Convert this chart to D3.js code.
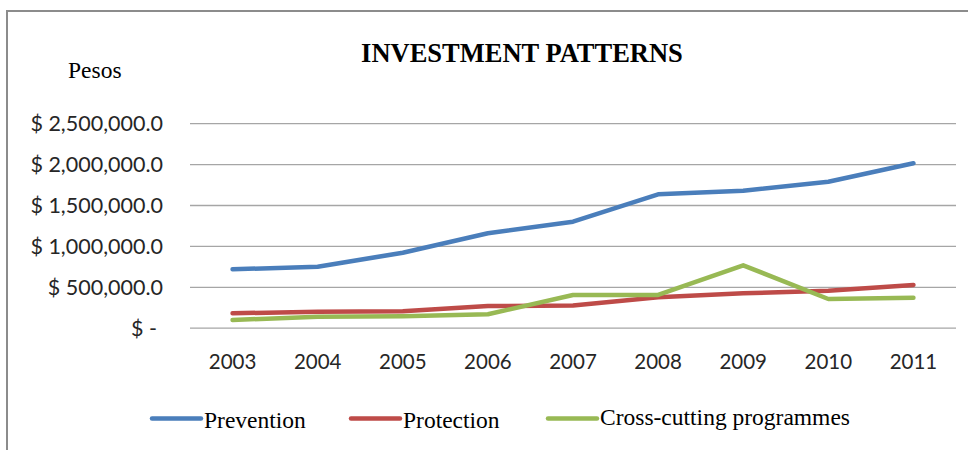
<!DOCTYPE html>
<html>
<head>
<meta charset="utf-8">
<script src="https://cdn.jsdelivr.net/npm/d3@7"></script>
<style>
  html, body { margin: 0; padding: 0; background: #fff; }
  svg { display: block; }
</style>
</head>
<body>
<svg id="chart" width="968" height="450"></svg>
<script>
const years = ["2003","2004","2005","2006","2007","2008","2009","2010","2011"];
const prevention = [714000, 746000, 917000, 1154000, 1296000, 1631000, 1675000, 1785000, 2010000];
const protection = [176000, 196000, 200000, 265000, 270000, 372000, 420000, 452000, 522000];
const crossCutting = [94000, 134000, 140000, 164000, 400000, 400000, 763000, 351000, 367000];
const seriesNames = ["Prevention", "Protection", "Cross-cutting programmes"];
const seriesColors = ["#4A7EBB", "#BE4B48", "#98B954"];
const yTicks = [0, 500000, 1000000, 1500000, 2000000, 2500000];
const title = "INVESTMENT PATTERNS";
const yTitle = "Pesos";

const seriesValues = [prevention, protection, crossCutting];

const svg = d3.select("#chart");

// Chart border (left and top)
svg.append("line").attr("x1", 7).attr("x2", 7).attr("y1", 10).attr("y2", 450)
  .attr("stroke", "#8c8c8c").attr("stroke-width", 2);
svg.append("line").attr("x1", 6).attr("x2", 968).attr("y1", 11).attr("y2", 11)
  .attr("stroke", "#8c8c8c").attr("stroke-width", 2);

const plot = { left: 190, right: 956, top: 123.2, bottom: 327.7 };

const x = d3.scaleBand().domain(years).range([plot.left, plot.right]).padding(0);
const y = d3.scaleLinear().domain([0, 2500000]).range([plot.bottom, plot.top]);

const fmt = v => v === 0 ? "$ -" : "$ " + d3.format(",.1f")(v);

// Y axis with gridlines
const yAxis = d3.axisLeft(y).tickValues(yTicks).tickFormat(fmt)
  .tickSizeInner(-(plot.right - plot.left)).tickSizeOuter(0).tickPadding(27);
const gy = svg.append("g").attr("transform", `translate(${plot.left},0)`).call(yAxis);
gy.select(".domain").remove();
gy.selectAll(".tick line").attr("stroke", "#a6a6a6").attr("stroke-width", 1.3);
gy.selectAll(".tick text")
  .attr("font-family", "Lato, sans-serif").attr("font-size", 21.5).attr("fill", "#262626")
  .attr("dy", "0.36em")
  .attr("dx", d => d === 0 ? -6 : 0);

// X axis labels
const xAxis = d3.axisBottom(x).tickSize(0).tickPadding(0);
const gx = svg.append("g").attr("transform", `translate(0,${plot.bottom})`).call(xAxis);
gx.select(".domain").remove();
gx.selectAll(".tick text")
  .attr("font-family", "Lato, sans-serif").attr("font-size", 20.5).attr("fill", "#262626")
  .attr("y", 41.5).attr("dy", 0);

// Lines
const line = d3.line()
  .x((d, i) => x(years[i]) + x.bandwidth() / 2)
  .y(d => y(d));

seriesValues.forEach((vals, i) => {
  svg.append("path").datum(vals)
    .attr("d", line)
    .attr("fill", "none")
    .attr("stroke", seriesColors[i])
    .attr("stroke-width", 4.5)
    .attr("stroke-linecap", "round")
    .attr("stroke-linejoin", "round");
});

// Title
svg.append("text").attr("x", 522).attr("y", 61.7)
  .attr("text-anchor", "middle")
  .attr("font-family", "'Liberation Serif', 'Times New Roman', serif")
  .attr("font-weight", "bold").attr("font-size", 26.5).attr("fill", "#000")
  .text(title);

// Y title
svg.append("text").attr("x", 68).attr("y", 77.5)
  .attr("font-family", "'Liberation Serif', 'Times New Roman', serif")
  .attr("font-size", 23.5).attr("fill", "#000")
  .text(yTitle);

// Legend
const legendX = [152, 351, 548];
const legendTextY = [428, 427.5, 425];
seriesNames.forEach((name, i) => {
  const g = svg.append("g");
  g.append("line")
    .attr("x1", legendX[i]).attr("x2", legendX[i] + 49)
    .attr("y1", 418.5).attr("y2", 418.5)
    .attr("stroke", seriesColors[i]).attr("stroke-width", 4.5)
    .attr("stroke-linecap", "round");
  g.append("text")
    .attr("x", legendX[i] + 52).attr("y", legendTextY[i])
    .attr("font-family", "'Liberation Serif', 'Times New Roman', serif")
    .attr("font-size", 23.5).attr("fill", "#000")
    .text(name);
});
</script>
</body>
</html>
